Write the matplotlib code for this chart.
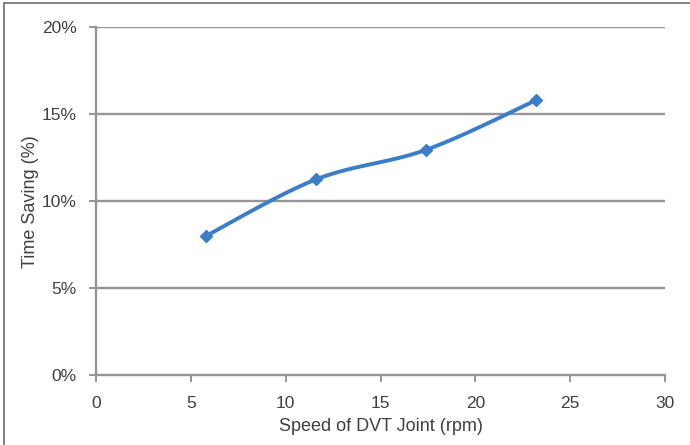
import numpy as np
import matplotlib.pyplot as plt
from matplotlib.lines import Line2D

plt.rcParams['font.family'] = ['Liberation Sans', 'DejaVu Sans']

# data
speed = [5.8, 11.6, 17.4, 23.2]          # rpm
saving = [8.0, 11.25, 12.95, 15.8]       # %
x_ticks = [0, 5, 10, 15, 20, 25, 30]
y_ticks = [0, 5, 10, 15, 20]


def smooth(xs, ys, n=30):
    # Excel-style smoothed line: cubic Bezier through each point
    p = np.column_stack([xs, ys]).astype(float)
    p_ext = np.vstack([p[0], p, p[-1]])
    out = []
    for i in range(len(p) - 1):
        p0, p3 = p[i], p[i + 1]
        c1 = p0 + (p_ext[i + 2] - p_ext[i]) / 6
        c2 = p3 - (p_ext[i + 3] - p_ext[i + 1]) / 6
        t = np.linspace(0, 1, n)[:, None]
        seg = ((1 - t) ** 3) * p0 + 3 * ((1 - t) ** 2) * t * c1 + 3 * (1 - t) * t ** 2 * c2 + t ** 3 * p3
        out.append(seg if i == 0 else seg[1:])
    out = np.vstack(out)
    return out[:, 0], out[:, 1]


fig = plt.figure(figsize=(6.9, 4.45), dpi=100)
ax = fig.add_axes([0.139, 0.157, 0.825, 0.782])

grey = '#959595'
text_c = '#404040'
blue = '#3b7dc8'

for v in y_ticks[1:]:
    ax.axhline(v, color=grey, lw=1.7, zorder=1)

sx, sy = smooth(speed, saving)
ax.plot(sx, sy, color=blue, lw=2.8, solid_capstyle='round', zorder=3)
ax.plot(speed, saving, 'D', color=blue, ms=6.5, zorder=4)

ax.set_xlim(0, 30)
ax.set_ylim(0, 20)
ax.set_xticks(x_ticks)
ax.set_yticks(y_ticks)
ax.set_yticklabels([f'{v}%' for v in y_ticks])

for s in ['top', 'right']:
    ax.spines[s].set_visible(False)
for s in ['left', 'bottom']:
    ax.spines[s].set_color(grey)
    ax.spines[s].set_linewidth(1.7)

ax.tick_params(colors=grey, width=1.4, length=5, labelcolor=text_c, labelsize=12.5)
ax.tick_params(axis='x', pad=10)
ax.tick_params(axis='y', pad=9)
ax.set_xlabel('Speed of DVT Joint (rpm)', color=text_c, fontsize=13, labelpad=5)
ax.set_ylabel('Time Saving (%)', color=text_c, fontsize=13, labelpad=2)

# outer frame (only top and left edges visible in the picture)
fig.add_artist(Line2D([0.006, 0.006], [0, 0.993], transform=fig.transFigure,
                      color='#7a7a7a', lw=1.3))
fig.add_artist(Line2D([0.006, 1], [0.993, 0.993], transform=fig.transFigure,
                      color='#7a7a7a', lw=1.3))

fig.savefig('out.png', dpi=100)
